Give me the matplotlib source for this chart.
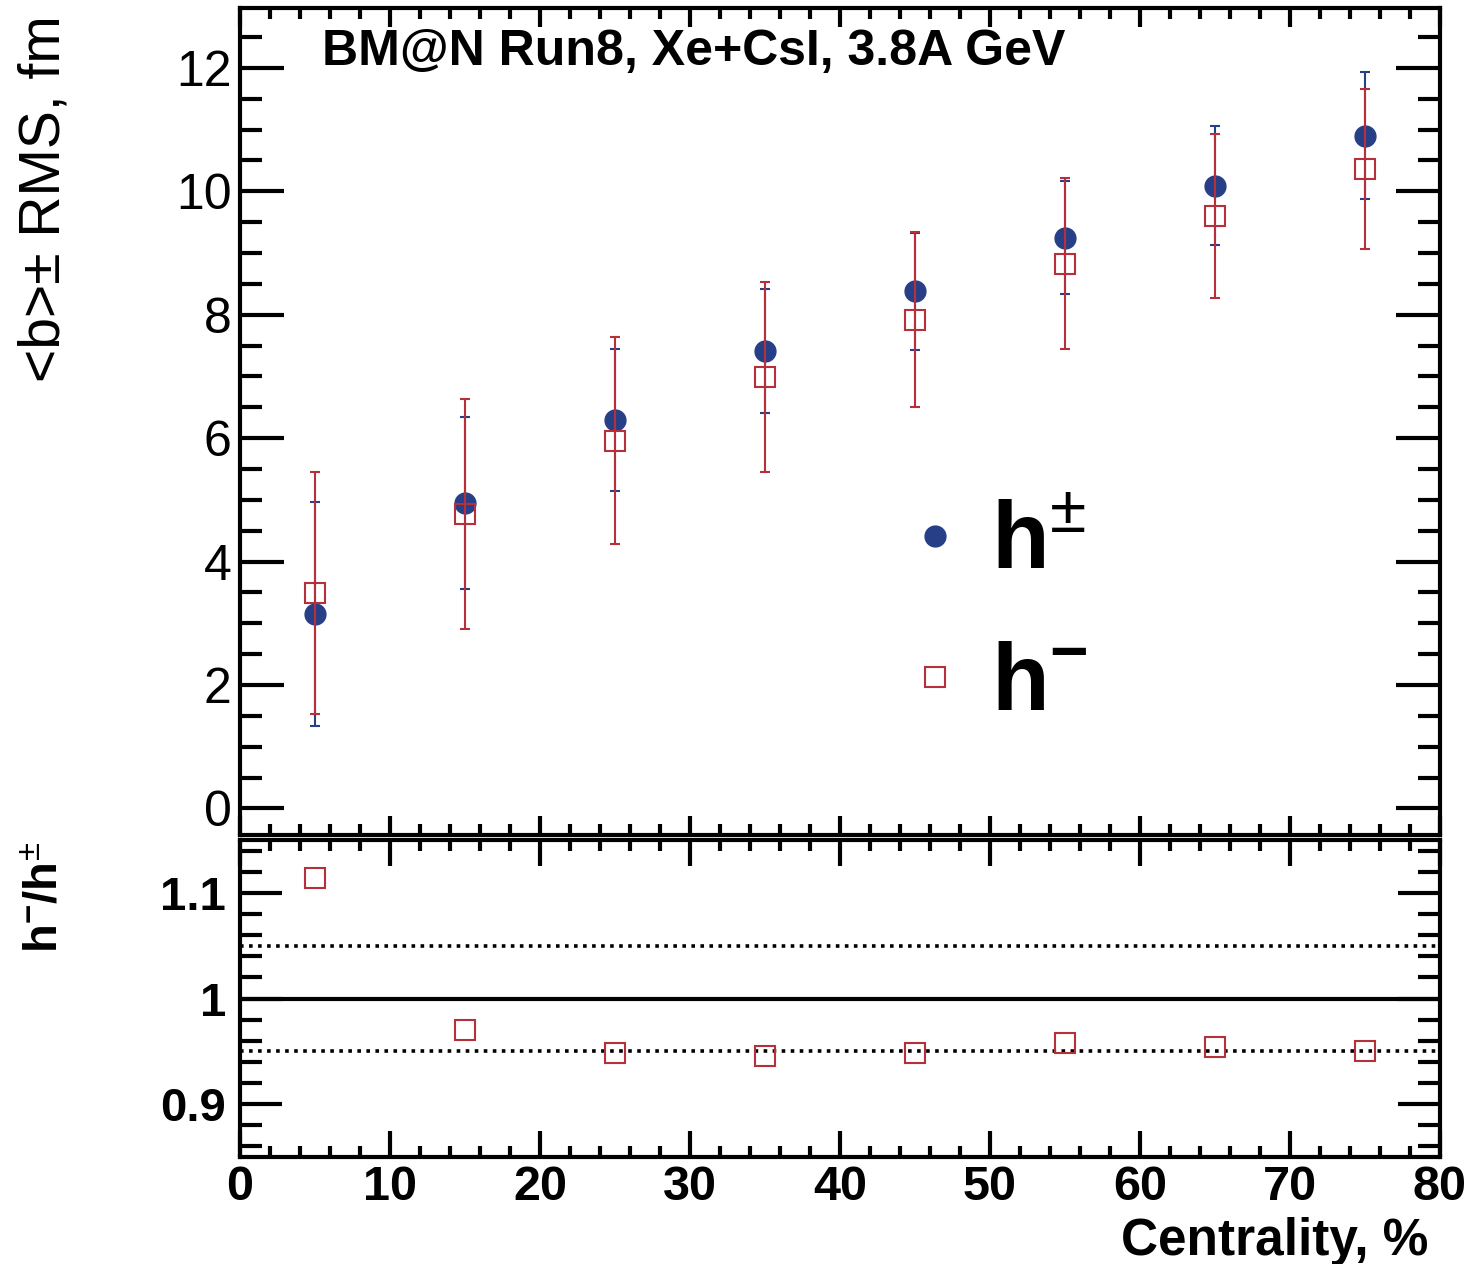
import matplotlib
matplotlib.use('Agg')
import matplotlib.pyplot as plt
from matplotlib.lines import Line2D
from matplotlib.ticker import MultipleLocator

plt.rcParams['font.family'] = ['Liberation Sans', 'DejaVu Sans']
plt.rcParams['mathtext.fontset'] = 'custom'
plt.rcParams['mathtext.rm'] = 'Liberation Sans'
plt.rcParams['mathtext.bf'] = 'Liberation Sans:bold'

# centrality bins (bin centres, %)
centrality = [5, 15, 25, 35, 45, 55, 65, 75]

# <b> +- RMS for all charged hadrons
b_all = [3.15, 4.95, 6.30, 7.41, 8.38, 9.25, 10.09, 10.90]
rms_all = [1.82, 1.40, 1.15, 1.00, 0.95, 0.92, 0.96, 1.03]

# <b> +- RMS for negative hadrons
b_neg = [3.49, 4.77, 5.96, 6.99, 7.92, 8.83, 9.60, 10.36]
rms_neg = [1.96, 1.86, 1.68, 1.54, 1.42, 1.38, 1.33, 1.30]

# ratio h-/h+-
ratio = [1.114, 0.970, 0.948, 0.946, 0.948, 0.958, 0.954, 0.950]

blue = '#273f86'
red = '#b5303a'

fig = plt.figure(figsize=(14.72, 12.64), dpi=100)
ax = fig.add_axes([240/1472, 1-835/1264, 1200/1472, 827/1264])
axr = fig.add_axes([240/1472, 1-1157/1264, 1200/1472, 317/1264])

# top panel
ax.errorbar(centrality, b_all, yerr=rms_all, fmt='o', color=blue, ms=15,
            elinewidth=1.5, capsize=3.5, capthick=1.5, zorder=3)
ax.errorbar(centrality, b_neg, yerr=rms_neg, fmt='s', color=red, mfc='none',
            mec=red, ms=15, mew=1.5, elinewidth=1.5, capsize=3.5, capthick=1.5, zorder=4)

ax.set_xlim(0, 80)
ax.set_ylim(-0.43, 12.97)
ax.xaxis.set_major_locator(MultipleLocator(10))
ax.xaxis.set_minor_locator(MultipleLocator(2))
ax.yaxis.set_major_locator(MultipleLocator(2))
ax.yaxis.set_minor_locator(MultipleLocator(0.5))
ax.tick_params(axis='both', which='both', direction='in', top=True, right=True, width=3)
ax.tick_params(axis='y', which='major', length=32, labelsize=36, pad=6)
ax.tick_params(axis='y', which='minor', length=16)
ax.tick_params(axis='x', which='major', length=14, labelbottom=False)
ax.tick_params(axis='x', which='minor', length=8)
for s in ax.spines.values():
    s.set_linewidth(3)

ax.text(0.068, 0.931, 'BM@N Run8, Xe+CsI, 3.8A GeV', transform=ax.transAxes,
        fontsize=36, fontweight='bold', va='baseline', ha='left')

handles = [
    Line2D([], [], marker='o', ls='none', color=blue, ms=15),
    Line2D([], [], marker='s', ls='none', mfc='none', mec=red, mew=1.5, ms=15),
]
labels = [r'$\mathbf{h}^{\rm{\pm}}$', r'$\mathbf{h}^{\mathbf{-}}$']
ax.legend(handles, labels, loc='center left', bbox_to_anchor=(0.528, 0.266),
          fontsize=68, frameon=False, handlelength=0.5, handletextpad=0.34,
          labelspacing=0.55, borderaxespad=0)

fig.text(45/1472, 1-15/1264, '<b>± RMS, fm', rotation=90, fontsize=41,
         ha='center', va='top')

# ratio panel
axr.axhline(1.0, color='black', lw=3, zorder=1)
axr.axhline(1.05, color='black', lw=2.6, ls=(0, (1, 1.5)), zorder=1)
axr.axhline(0.95, color='black', lw=2.6, ls=(0, (1, 1.5)), zorder=1)
axr.plot(centrality, ratio, 's', mfc='none', mec=red, mew=1.5, ms=15, zorder=3)

axr.set_xlim(0, 80)
axr.set_ylim(0.85, 1.15)
axr.xaxis.set_major_locator(MultipleLocator(10))
axr.xaxis.set_minor_locator(MultipleLocator(2))
axr.yaxis.set_major_locator(MultipleLocator(0.1))
axr.yaxis.set_minor_locator(MultipleLocator(0.02))
axr.set_yticks([0.9, 1.0, 1.1])
axr.set_yticklabels(['0.9', '1', '1.1'])
axr.tick_params(axis='both', which='both', direction='in', top=True, right=True, width=3)
axr.tick_params(axis='y', which='major', length=30, labelsize=34, pad=10)
axr.tick_params(axis='y', which='minor', length=16)
axr.tick_params(axis='x', which='major', length=19, labelsize=35, pad=6)
axr.tick_params(axis='x', which='minor', length=8)
for lab in axr.get_xticklabels() + axr.get_yticklabels():
    lab.set_fontweight('bold')
for s in axr.spines.values():
    s.set_linewidth(3)

fig.text(45/1472, 1-842/1264, r'$\mathbf{h}^{\mathbf{-}}\mathbf{/h}^{\pm}$', rotation=90,
         fontsize=34, ha='center', va='top')
fig.text(1428/1472, 1-1255/1264, 'Centrality, %', fontsize=37, fontweight='bold',
         ha='right', va='baseline')

fig.savefig('out.png', dpi=100)
